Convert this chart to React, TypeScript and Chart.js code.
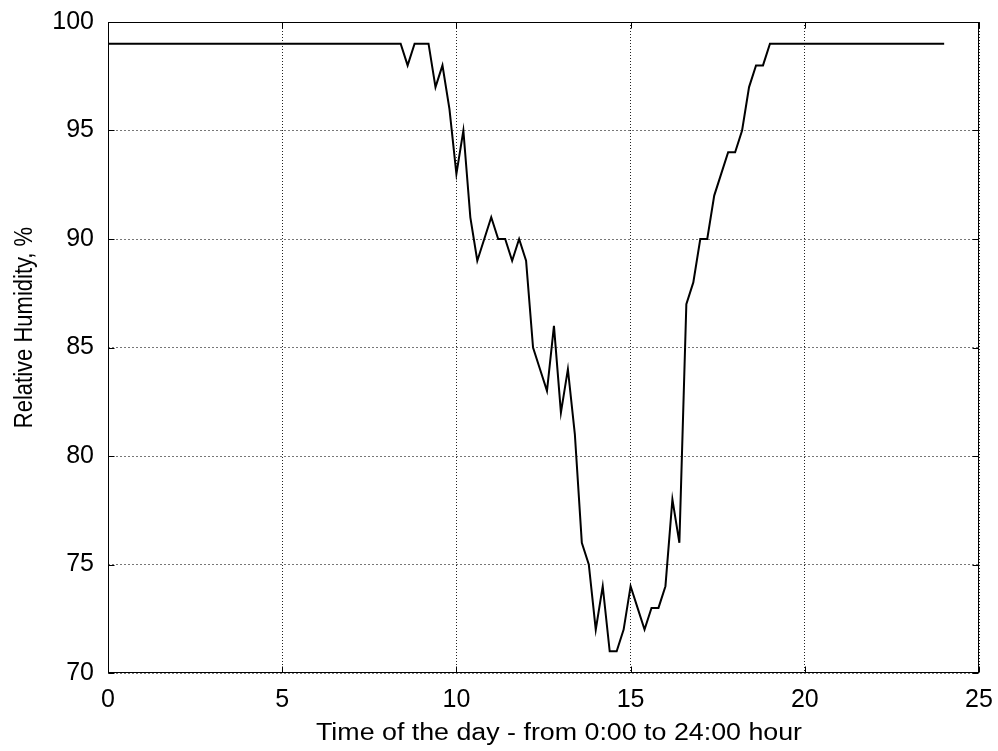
import React, { useEffect, useRef } from "react";
import { Chart, registerables } from "chart.js";

Chart.register(...registerables);

// Time of day (hours) at each reading where the curve changes direction
const hours: number[] = [
  0, 8.4, 8.6, 8.8, 9.2, 9.4, 9.6, 9.8, 10.0, 10.2,
  10.4, 10.6, 11.0, 11.2, 11.4, 11.6, 11.8, 12.0, 12.2, 12.4,
  12.6, 12.8, 13.0, 13.2, 13.4, 13.6, 13.8, 14.0, 14.2, 14.4,
  14.6, 14.8, 15.0, 15.2, 15.4, 15.6, 15.8, 16.0, 16.2, 16.4,
  16.6, 16.8, 17.0, 17.2, 17.4, 17.6, 17.8, 18.0, 18.2, 18.4,
  18.6, 18.8, 19.0, 24.0,
];

// Relative humidity (%) at those times
const humidity: number[] = [
  99, 99, 98, 99, 99, 97, 98, 96, 93, 95,
  91, 89, 91, 90, 90, 89, 90, 89, 85, 84,
  83, 86, 82, 84, 81, 76, 75, 72, 74, 71,
  71, 72, 74, 73, 72, 73, 73, 74, 78, 76,
  87, 88, 90, 90, 92, 93, 94, 94, 95, 97,
  98, 98, 99, 99,
];

const xTicks: number[] = [0, 5, 10, 15, 20, 25];
const yTicks: number[] = [70, 75, 80, 85, 90, 95, 100];

const xTitle = "Time of the day - from 0:00 to 24:00 hour";
const yTitle = "Relative Humidity, %";

const FONT = '"Liberation Sans", Arial, Helvetica, sans-serif';

const framePlugin = {
  id: "gnuFrame",
  afterDraw(chart: any) {
    const { ctx, chartArea: a, scales } = chart;
    const l = Math.round(a.left) + 0.5;
    const r = Math.round(a.right) - 0.5;
    const t = Math.round(a.top) + 0.5;
    const b = Math.round(a.bottom) - 0.5;
    ctx.save();
    ctx.setLineDash([]);
    ctx.strokeStyle = "#000";
    ctx.lineWidth = 1;
    ctx.strokeRect(l, t, r - l, b - t);
    const len = 6;
    ctx.beginPath();
    scales.x.ticks.forEach((tk: any) => {
      const px = Math.round(scales.x.getPixelForValue(tk.value)) + 0.5;
      ctx.moveTo(px, b);
      ctx.lineTo(px, b - len);
      ctx.moveTo(px, t);
      ctx.lineTo(px, t + len);
    });
    scales.y.ticks.forEach((tk: any) => {
      const py = Math.round(scales.y.getPixelForValue(tk.value)) + 0.5;
      ctx.moveTo(l, py);
      ctx.lineTo(l + len, py);
      ctx.moveTo(r, py);
      ctx.lineTo(r - len, py);
    });
    ctx.stroke();

    // axis titles (slightly widened lettering as in the reference)
    ctx.fillStyle = "#000";
    ctx.textAlign = "center";
    ctx.textBaseline = "alphabetic";
    ctx.font = `23px ${FONT}`;
    ctx.save();
    ctx.translate(559, 740);
    ctx.scale(1.165, 1);
    ctx.fillText(xTitle, 0, 0);
    ctx.restore();

    ctx.font = `22px ${FONT}`;
    ctx.save();
    ctx.translate(31.5, 327.5);
    ctx.rotate(-Math.PI / 2);
    ctx.scale(1, 1.15);
    ctx.fillText(yTitle, 0, 0);
    ctx.restore();
    ctx.restore();
  },
};

const zeroPad = (s: any) => {
  s.paddingLeft = 0;
  s.paddingRight = 0;
  s.paddingTop = 0;
  s.paddingBottom = 0;
};

export default function App() {
  const ref = useRef<HTMLCanvasElement>(null);

  useEffect(() => {
    if (!ref.current) return;
    const points = hours.map((h, i) => ({ x: h, y: humidity[i] }));
    const chart = new Chart(ref.current, {
      type: "line",
      data: {
        datasets: [
          {
            data: points,
            borderColor: "#000",
            borderWidth: 2,
            pointRadius: 0,
            tension: 0,
            fill: false,
          },
        ],
      },
      options: {
        animation: false,
        responsive: false,
        devicePixelRatio: 1,
        layout: { padding: { left: 0, top: 22, right: 19, bottom: 0 } },
        plugins: {
          legend: { display: false },
          tooltip: { enabled: false },
        },
        scales: {
          x: {
            type: "linear",
            min: 0,
            max: 25,
            afterBuildTicks: (s: any) => {
              s.ticks = xTicks.map((v) => ({ value: v }));
            },
            afterFit: (s: any) => {
              s.height = 78;
              zeroPad(s);
            },
            ticks: {
              color: "#000",
              padding: 12,
              font: { family: FONT, size: 25 },
              maxRotation: 0,
            },
            grid: {
              color: "#222",
              lineWidth: 1,
              drawTicks: false,
            },
            border: { display: false, dash: [1, 2] },
          },
          y: {
            type: "linear",
            min: 70,
            max: 100,
            afterBuildTicks: (s: any) => {
              s.ticks = yTicks.map((v) => ({ value: v }));
            },
            afterFit: (s: any) => {
              s.width = 108;
              zeroPad(s);
            },
            ticks: {
              color: "#000",
              padding: 14,
              font: { family: FONT, size: 25 },
            },
            grid: {
              color: "#777",
              lineWidth: 1,
              drawTicks: false,
            },
            border: { display: false, dash: [2, 2] },
          },
        },
      },
      plugins: [framePlugin],
    });
    return () => chart.destroy();
  }, []);

  return (
    <div style={{ position: "fixed", left: 0, top: 0, width: 998, height: 751, background: "#fff" }}>
      <canvas ref={ref} width={998} height={751} style={{ display: "block", width: 998, height: 751 }} />
    </div>
  );
}
